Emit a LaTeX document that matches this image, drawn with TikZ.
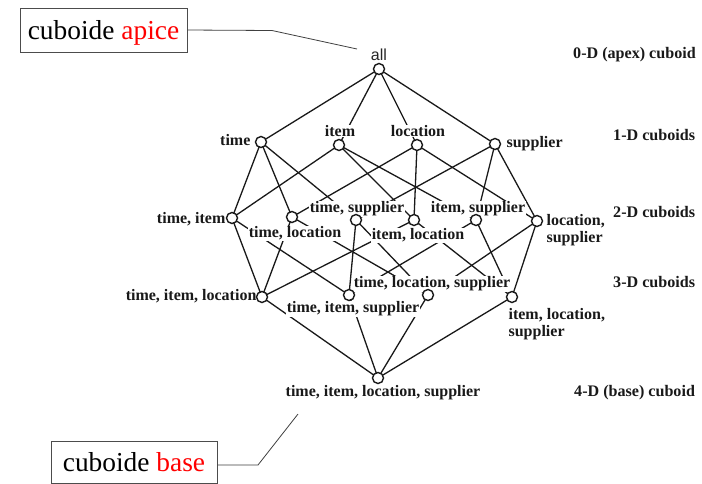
\documentclass[tikz,border=0pt]{standalone}
\usepackage{fontspec}
\setmainfont{Liberation Serif}
\newfontfamily\helv{Liberation Sans}
\tikzset{
  pt/.style={circle,draw=black!90,line width=1.4pt,fill=white,minimum size=11pt,inner sep=0pt},
  edge/.style={draw=black!90,line width=1.3pt},
  lab/.style={font=\fontsize{16}{18}\selectfont\bfseries,text=black!90,fill=white,inner sep=0.4pt,align=left,yshift=-0.7pt},
  side/.style={font=\fontsize{16.1}{18}\selectfont\bfseries,text=black!90,inner sep=0pt,anchor=west,yshift=-0.5pt},
  callout/.style={draw=black!70,line width=0.9pt,fill=white,font=\fontsize{27.4}{30}\selectfont,inner sep=0pt,text depth=0pt},
  leader/.style={draw=black!75,line width=0.8pt}
}
\begin{document}
\begin{tikzpicture}[x=1pt,y=-1pt]
\useasboundingbox (0,0) rectangle (702,483);
\fill[white] (0,0) rectangle (702,483);
% lattice points
\coordinate (all) at (379,69);
\coordinate (t) at (261,142);
\coordinate (i) at (339,145);
\coordinate (l) at (417,145);
\coordinate (s) at (495,144);
\coordinate (ti) at (232,218);
\coordinate (tl) at (292,217);
\coordinate (ts) at (356,220);
\coordinate (il) at (414,220);
\coordinate (is) at (476,220);
\coordinate (ls) at (537,221);
\coordinate (til) at (262,297);
\coordinate (tis) at (349,295);
\coordinate (tls) at (428,295);
\coordinate (ils) at (512,297);
\coordinate (b) at (378,378);
\foreach \p/\q in {all/t,all/i,all/l,all/s,
  t/ti,t/tl,t/ts,i/ti,i/il,i/is,l/tl,l/il,l/ls,s/ts,s/is,s/ls,
  ti/til,ti/tis,tl/til,tl/tls,ts/tis,ts/tls,il/til,il/ils,is/tis,is/ils,ls/tls,ls/ils,
  til/b,tis/b,tls/b,ils/b}
  \draw[edge] (\p) -- (\q);
% labels
\node[lab,anchor=base east] (Lti) at (226,223) {time, item};
\node[lab,anchor=base] (Ltl) at (295,237) {time, location};
\node[lab,anchor=base] (Lts) at (357,212) {time, supplier};
\node[lab,anchor=base] (Lil) at (418,239) {item, location};
\node[lab,anchor=base] (Lis) at (478,212) {item, supplier};
\node[lab,anchor=base] (Ltis) at (353,312) {time, item, supplier};
\node[lab,anchor=base] (Ltls) at (432,287) {time, location, supplier};
\node[lab,anchor=base east] (Ltil) at (257,300) {time, item, location};
\node[lab,anchor=base west] (Lls) at (546,225) {location,};
\node[lab,anchor=base west] (Lls2) at (546,242) {supplier};
\node[lab,anchor=base west] (Lils) at (508,319) {item, location,};
\node[lab,anchor=base west] (Lils2) at (508,336) {supplier};
\node[lab,anchor=base] (Lb) at (383,396) {time, item, location, supplier};
\node[lab,anchor=base east] (Lt) at (251,145) {time};
\node[lab,anchor=base] (Li) at (340,136) {item};
\node[lab,anchor=base] (Ll) at (418,136) {location};
\node[lab,anchor=base west] (Ls) at (506,147) {supplier};
\node[anchor=base,font=\helv\fontsize{16}{18}\selectfont,text=black!85,inner sep=0pt] (La) at (379,60) {all};
% points
\foreach \p in {all,t,i,l,s,ti,tl,ts,il,is,ls,til,tis,tls,ils,b}
  \node[pt] (n\p) at (\p) {};
% side labels
\node[side] (S0) at (573,54) {0-D (apex) cuboid};
\node[side] (S1) at (613,135) {1-D cuboids};
\node[side] (S2) at (613,212) {2-D cuboids};
\node[side] (S3) at (613,282) {3-D cuboids};
\node[side] (S4) at (574,392) {4-D (base) cuboid};
% callouts
\node[callout,minimum width=167pt,minimum height=44pt] (apex) at (103.5,30) {cuboide \textcolor{red}{apice}};
\node[callout,minimum width=166pt,minimum height=42pt] (base) at (134,462) {cuboide \textcolor{red}{base}};
\coordinate (a1) at (272,30.5);
\coordinate (a2) at (357,49);
\coordinate (b1) at (258,465);
\coordinate (b2) at (298,414);
\draw[leader] (apex.east) -- (a1) -- (a2);
\draw[leader] (base.east |- b1) -- (b1) -- (b2);
\end{tikzpicture}
\end{document}
